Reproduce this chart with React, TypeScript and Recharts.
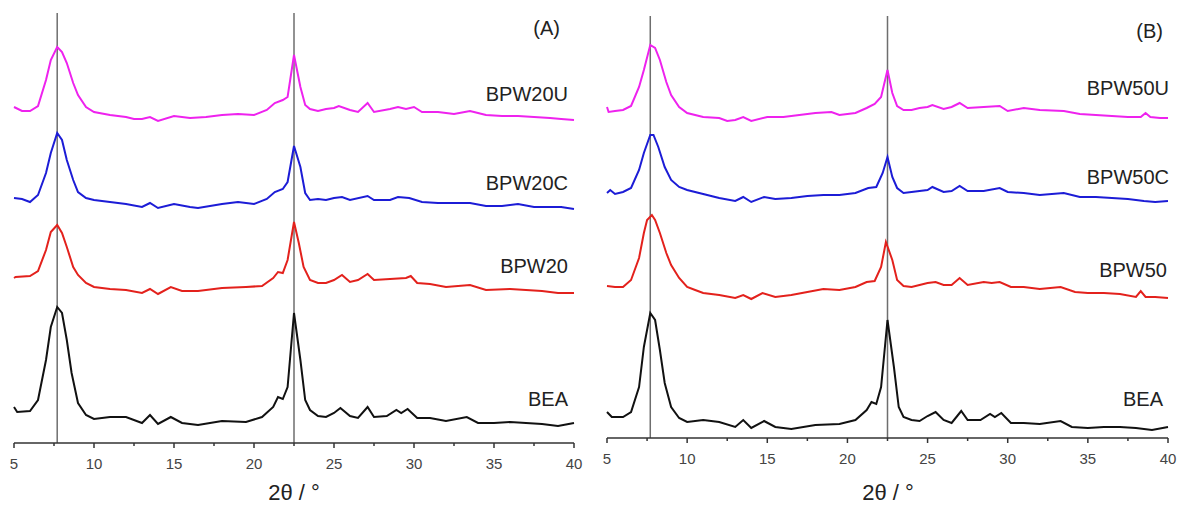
import { LineChart, Line, XAxis, YAxis, ReferenceLine } from 'recharts';

// 2θ positions of the two reference lines
const refLines = [7.7, 22.5];
const xTicks = [5, 7.5, 10, 12.5, 15, 17.5, 20, 22.5, 25, 27.5, 30, 32.5, 35, 37.5, 40];

// panel A (stacked, offset intensity, arbitrary units)
const aBEA: [number, number][] = [
  [5, 36], [5.2, 31], [6, 32], [6.5, 43], [7, 83], [7.3, 116], [7.7, 136], [8, 130], [8.3, 103], [8.6, 70],
  [9, 40], [9.5, 28], [10, 24], [11, 26], [12, 26], [13, 20], [13.5, 28], [14, 19], [14.8, 26], [15.5, 20],
  [16.5, 18], [18, 22], [19.5, 21], [20.5, 26], [21.2, 36], [21.5, 46], [21.8, 44], [22.1, 56], [22.5, 130],
  [22.9, 83], [23.2, 43], [23.5, 33], [24, 27], [24.5, 26], [25, 30], [25.4, 35], [26, 27], [26.5, 25],
  [27.1, 36], [27.5, 26], [28.3, 27], [28.9, 33], [29.2, 30], [29.6, 34], [30.2, 25], [31, 25], [32, 22],
  [33.3, 26], [34, 20], [35, 20], [36, 21], [37, 20], [38, 19], [39, 17], [40, 20],
];
const aBPW20: [number, number][] = [
  [5, 165], [5.1, 166], [6, 167], [6.5, 172], [7, 193], [7.3, 211], [7.7, 218], [8, 210], [8.3, 196], [8.7, 176],
  [9, 168], [9.5, 160], [10, 156], [11, 154], [12, 153], [13, 150], [13.5, 154], [14, 149], [14.8, 156], [15.5, 152],
  [16.5, 152], [18, 155], [19.5, 156], [20.5, 157], [21.2, 165], [21.5, 171], [21.8, 170], [22.1, 183], [22.5, 221],
  [22.8, 200], [23.1, 176], [23.5, 163], [24, 160], [24.5, 160], [25, 163], [25.5, 168], [26, 161], [26.5, 163],
  [27.1, 169], [27.5, 163], [28.5, 164], [29.5, 165], [29.8, 167], [30.2, 160], [31, 159], [32, 156], [33.5, 158],
  [34.5, 153], [36, 154], [37, 153], [38, 152], [39, 150], [40, 150],
];
const aBPW20C: [number, number][] = [
  [5, 245], [5.5, 244], [6, 241], [6.5, 248], [7, 270], [7.3, 290], [7.7, 310], [8, 303], [8.3, 283], [8.7, 263],
  [9, 251], [9.5, 245], [10, 243], [11, 241], [12, 239], [13, 236], [13.5, 240], [14, 235], [15, 239], [16, 236],
  [16.5, 235], [18, 239], [19, 241], [20, 239], [20.8, 244], [21.3, 251], [21.8, 254], [22.1, 261], [22.5, 297],
  [22.9, 276], [23.2, 250], [23.5, 243], [24, 244], [24.5, 243], [25, 245], [25.5, 246], [26, 243], [27.1, 247],
  [27.5, 243], [28.5, 243], [29, 246], [29.7, 245], [30.5, 241], [31.5, 240], [32.5, 240], [33.5, 240],
  [34.5, 237], [35.5, 237], [36.5, 239], [37.5, 236], [38.5, 236], [39.2, 236], [40, 234],
];
const aBPW20U: [number, number][] = [
  [5, 336], [5.5, 332], [6, 332], [6.5, 337], [7, 363], [7.3, 383], [7.7, 396], [8, 391], [8.3, 380], [8.7, 360],
  [9, 348], [9.5, 336], [10, 331], [11, 328], [12, 326], [12.5, 324], [13, 324], [13.5, 326], [14, 322], [15, 327],
  [16, 325], [17, 326], [18, 328], [19, 329], [20, 328], [20.8, 333], [21.3, 340], [21.8, 343], [22.1, 346],
  [22.5, 388], [22.9, 356], [23.2, 338], [23.5, 334], [24, 332], [24.5, 334], [25, 335], [25.3, 337], [26, 333],
  [26.5, 331], [27.1, 340], [27.5, 331], [28.5, 334], [29, 336], [29.5, 334], [30, 336], [30.5, 331], [31.5, 331],
  [32.5, 329], [33.5, 332], [34.5, 328], [35.5, 327], [36.5, 327], [37.5, 326], [38.5, 325], [39.2, 324], [40, 323],
];

// panel B
const bBEA: [number, number][] = [
  [5, 26], [5.3, 21], [6, 21], [6.5, 26], [7, 51], [7.3, 91], [7.7, 125], [8, 118], [8.3, 88], [8.6, 55],
  [9, 31], [9.5, 20], [10, 16], [11, 18], [12, 16], [13, 11], [13.5, 18], [14, 10], [14.8, 17], [15.5, 11],
  [16.5, 9], [18, 13], [19.5, 14], [20.5, 18], [21.2, 28], [21.5, 36], [21.8, 34], [22.1, 51], [22.5, 118],
  [22.9, 71], [23.2, 31], [23.5, 21], [24, 18], [24.5, 17], [25, 22], [25.5, 26], [26, 18], [26.5, 15],
  [27.1, 27], [27.5, 18], [28.3, 18], [28.9, 24], [29.2, 21], [29.6, 25], [30.2, 15], [31, 15], [32, 14],
  [33.3, 17], [34, 11], [35, 10], [36, 11], [37, 11], [38, 10], [39, 8], [40, 11],
];
const bBPW50: [number, number][] = [
  [5, 152], [5.5, 151], [6, 151], [6.5, 158], [7, 180], [7.3, 205], [7.5, 218], [7.8, 223], [8, 218], [8.3, 205],
  [8.7, 185], [9, 173], [9.5, 160], [10, 151], [10.5, 148], [11, 145], [12, 143], [13, 140], [13.5, 143], [14, 139],
  [14.7, 145], [15.5, 141], [16.5, 143], [17.5, 146], [18.5, 149], [19.5, 148], [20.5, 151], [21.2, 156],
  [21.7, 157], [22.1, 171], [22.4, 196], [22.8, 178], [23.1, 158], [23.5, 152], [24, 151], [24.5, 153], [25, 155],
  [25.5, 156], [26, 153], [26.5, 153], [27, 160], [27.5, 153], [28.5, 156], [29, 155], [29.5, 156], [30.2, 151],
  [31, 151], [32, 149], [33.3, 151], [34.2, 146], [35, 145], [36, 145], [37, 144], [38, 141], [38.3, 147],
  [38.6, 141], [39.2, 141], [40, 140],
];
const bBPW50C: [number, number][] = [
  [5, 245], [5.2, 248], [5.5, 244], [6, 246], [6.5, 250], [7, 268], [7.3, 285], [7.7, 303], [7.9, 303], [8.2, 291],
  [8.6, 271], [9, 258], [9.5, 251], [10, 248], [11, 244], [12, 240], [13, 237], [13.5, 241], [14, 236], [14.8, 241],
  [15.5, 239], [16.5, 240], [17.5, 242], [18.5, 243], [19.5, 243], [20.5, 245], [21.3, 250], [21.8, 251],
  [22.2, 265], [22.5, 281], [22.8, 261], [23.1, 250], [23.5, 245], [24, 246], [24.5, 247], [25, 248], [25.3, 251],
  [26, 246], [26.5, 247], [27, 252], [27.5, 247], [28.5, 247], [29.5, 250], [30, 246], [31, 245], [32, 243],
  [33.5, 245], [34.5, 241], [35.5, 241], [36.5, 240], [37.5, 239], [38.5, 237], [39.2, 236], [40, 237],
];
const bBPW50U: [number, number][] = [
  [5, 331], [5.1, 326], [5.5, 327], [6, 328], [6.5, 332], [7, 351], [7.3, 368], [7.7, 393], [8, 390], [8.3, 378],
  [8.7, 356], [9, 343], [9.5, 331], [10, 325], [11, 321], [12, 320], [12.5, 317], [13, 318], [13.5, 321], [14, 317],
  [15, 321], [16, 321], [17, 323], [18, 325], [19, 326], [19.5, 323], [20.5, 325], [21.2, 330], [21.7, 334],
  [22.1, 341], [22.5, 368], [22.8, 345], [23.1, 332], [23.5, 328], [24, 328], [24.5, 330], [25, 331], [25.3, 333],
  [26, 329], [26.5, 331], [27, 335], [27.5, 330], [28.5, 331], [29.5, 332], [30, 327], [31, 330], [32, 328],
  [33.5, 327], [34.5, 324], [35.5, 323], [36.5, 322], [37.5, 321], [38.3, 321], [38.6, 325], [38.9, 321],
  [39.5, 320], [40, 320],
];

const FONT = '"Liberation Sans", Arial, sans-serif';
const CHART_H = 506;
const AXIS_COLOR = '#333';

const toPts = (arr: [number, number][]) => arr.map(([x, y]) => ({ x, y }));
// minor ticks at 2.5 carry no label
const fmtTick = (v: number) => (v % 5 === 0 ? String(v) : '');

// baseline (y = 0) points for the axis line and the tick marks
const axisPts = [{ x: 5, y: 0 }, { x: 40, y: 0 }];
const tickPts = xTicks.map((t) => ({ x: t, y: 0 }));

const TickMark = (props: any) => {
  const { cx, cy, payload, index } = props;
  if (cx == null || cy == null) return <g key={index} />;
  const len = payload.x % 5 === 0 ? 5 : 3;
  return <line key={index} x1={cx} x2={cx} y1={cy} y2={cy + len} stroke={AXIS_COLOR} strokeWidth={1.5} />;
};

interface PanelProps {
  series: { data: [number, number][]; color: string }[];
  width: number;
  margin: { top: number; right: number; bottom: number; left: number };
  axisHeight: number;
  yMax: number;
}

const Panel = ({ series, width, margin, axisHeight, yMax }: PanelProps) => (
  <LineChart width={width} height={CHART_H} margin={margin}>
    <XAxis
      dataKey="x"
      type="number"
      domain={[5, 40]}
      ticks={xTicks}
      height={axisHeight}
      axisLine={false}
      tickLine={false}
      tickSize={5}
      tickMargin={10}
      tickFormatter={fmtTick}
      tick={{ fontSize: 15, fill: '#444', fontFamily: FONT }}
      interval={0}
    />
    <YAxis hide type="number" domain={[0, yMax]} />
    {refLines.map((x) => (
      <ReferenceLine key={x} x={x} stroke="#6e6e6e" strokeWidth={1.5} />
    ))}
    {series.map((s, i) => (
      <Line
        key={i}
        data={toPts(s.data)}
        dataKey="y"
        type="linear"
        stroke={s.color}
        strokeWidth={2}
        dot={false}
        isAnimationActive={false}
      />
    ))}
    <Line data={axisPts} dataKey="y" stroke={AXIS_COLOR} strokeWidth={1.5} dot={false} isAnimationActive={false} />
    <Line data={tickPts} dataKey="y" stroke="none" dot={<TickMark />} activeDot={false} isAnimationActive={false} />
  </LineChart>
);

const MAGENTA = '#ee22ee';
const BLUE = '#1c1cd6';
const RED = '#e3211c';
const BLACK = '#111111';

const labels = [
  { text: '(A)', x: 560, y: 35, anchor: 'end', size: 20 },
  { text: 'BPW20U', x: 568, y: 101, anchor: 'end', size: 20 },
  { text: 'BPW20C', x: 568, y: 190, anchor: 'end', size: 20 },
  { text: 'BPW20', x: 568, y: 273, anchor: 'end', size: 20 },
  { text: 'BEA', x: 568, y: 406, anchor: 'end', size: 20 },
  { text: '(B)', x: 1163, y: 38, anchor: 'end', size: 20 },
  { text: 'BPW50U', x: 1169, y: 95, anchor: 'end', size: 20 },
  { text: 'BPW50C', x: 1169, y: 184, anchor: 'end', size: 20 },
  { text: 'BPW50', x: 1167, y: 277, anchor: 'end', size: 20 },
  { text: 'BEA', x: 1163, y: 406, anchor: 'end', size: 20 },
  { text: '2θ / °', x: 294, y: 500, anchor: 'middle', size: 22 },
  { text: '2θ / °', x: 888, y: 500, anchor: 'middle', size: 22 },
];

export default function App() {
  return (
    <div style={{ position: 'absolute', left: 0, top: 0, width: 1179, height: 506, background: '#fff', fontFamily: FONT }}>
      <svg width={1179} height={506} style={{ position: 'absolute', left: 0, top: 0 }}>
        {labels.map((l, i) => (
          <text key={i} x={l.x} y={l.y} textAnchor={l.anchor} fontSize={l.size} fill="#222" fontFamily={FONT}>
            {l.text}
          </text>
        ))}
      </svg>
      <div style={{ position: 'absolute', left: 0, top: 0 }}>
        <Panel
          width={590}
          margin={{ top: 13, right: 16, bottom: 1, left: 14 }}
          axisHeight={62}
          yMax={430}
          series={[
            { data: aBEA, color: BLACK },
            { data: aBPW20, color: RED },
            { data: aBPW20C, color: BLUE },
            { data: aBPW20U, color: MAGENTA },
          ]}
        />
      </div>
      <div style={{ position: 'absolute', left: 590, top: 0 }}>
        <Panel
          width={589}
          margin={{ top: 16, right: 11, bottom: 1, left: 17 }}
          axisHeight={67}
          yMax={422}
          series={[
            { data: bBEA, color: BLACK },
            { data: bBPW50, color: RED },
            { data: bBPW50C, color: BLUE },
            { data: bBPW50U, color: MAGENTA },
          ]}
        />
      </div>
    </div>
  );
}
